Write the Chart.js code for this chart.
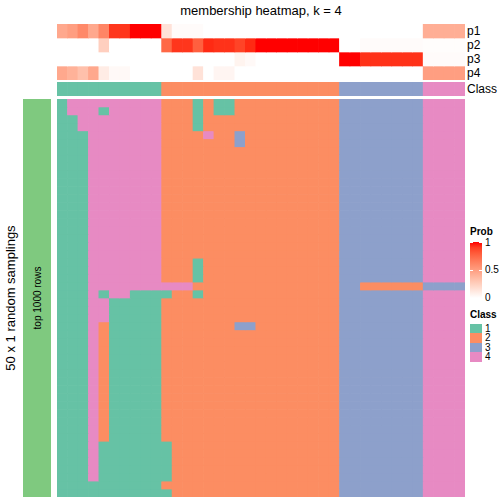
<!DOCTYPE html>
<html>
<head>
<meta charset="utf-8">
<script src="https://cdn.jsdelivr.net/npm/chart.js@4/dist/chart.umd.min.js"></script>
<style>
body { margin: 0; width: 504px; height: 504px; position: relative; overflow: hidden; background: #fff;
       font-family: "Liberation Sans", Arial, Helvetica, sans-serif; color: #000; }
canvas, .abs { position: absolute; }
.rowname { left: 467px; font-size: 12px; line-height: 14px; }
.legtitle { left: 470px; font-size: 10px; font-weight: bold; line-height: 12px; }
.legtick { left: 485px; font-size: 10px; line-height: 10px; }
.swatch { left: 470px; width: 12px; }
</style>
</head>
<body>
<div class="abs" style="left:57px;top:3px;width:408px;text-align:center;font-size:13px;line-height:15px">membership heatmap, k = 4</div>

<canvas id="probChart" width="408" height="56" style="left:57px;top:24px"></canvas>
<canvas id="classChart" width="408" height="14" style="left:57px;top:82px"></canvas>
<canvas id="mainChart" width="408" height="398" style="left:57px;top:99px"></canvas>

<div class="abs rowname" style="top:24px">p1</div>
<div class="abs rowname" style="top:38px">p2</div>
<div class="abs rowname" style="top:52px">p3</div>
<div class="abs rowname" style="top:66px">p4</div>
<div class="abs rowname" style="top:82px">Class</div>

<!-- left side: row title + split bar -->
<div class="abs" style="left:10px;top:298px;transform:translate(-50%,-50%) rotate(-90deg);white-space:nowrap;font-size:13px">50 x 1 random samplings</div>
<div class="abs" style="left:23px;top:99px;width:28px;height:398px;background:#7FC97F"></div>
<div class="abs" style="left:37px;top:298px;transform:translate(-50%,-50%) rotate(-90deg);white-space:nowrap;font-size:10px">top 1000 rows</div>

<!-- legends -->
<div class="abs legtitle" style="top:226px">Prob</div>
<div class="abs" id="gradient" style="left:470px;top:242px;width:12px;height:56px"></div>
<div class="abs" style="left:470px;top:242px;width:3px;height:1px;background:#fff"></div>
<div class="abs" style="left:479px;top:242px;width:3px;height:1px;background:#fff"></div>
<div class="abs" style="left:470px;top:270px;width:3px;height:1px;background:#fff"></div>
<div class="abs" style="left:479px;top:270px;width:3px;height:1px;background:#fff"></div>
<div class="abs legtick" style="top:238px">1</div>
<div class="abs legtick" style="top:265px">0.5</div>
<div class="abs legtick" style="top:293px">0</div>

<div class="abs legtitle" style="top:309px">Class</div>
<div id="classLegend"></div>

<script>
// ---- data ----
const k = 4;
const classIds = [1, 2, 3, 4];
const classColors = { 1: "#66C2A5", 2: "#FC8D62", 3: "#8DA0CB", 4: "#E78AC3" };

// class of each of the 39 samples (top annotation)
const colClass = [1,1,1,1,1,1,1,1,1,1,
                  2,2,2,2,2,2,2,2,2,2,2,2,2,2,2,2,2,
                  3,3,3,3,3,3,3,3,
                  4,4,4,4];

// membership probabilities per sample
const p1 = [0.45,0.5,0.6,0.45,0.62,0.92,0.92,1,1,1,
            0.15,0.02,0.02,0.02,0,0,0,0,0,0,0,0,0,0,0,0,0,
            0,0,0,0,0,0,0,0,
            0.42,0.42,0.42,0.42];
const p2 = [0,0,0,0,0.25,0,0,0,0,0,
            0.75,0.92,0.92,0.78,0.95,0.93,0.93,0.88,0.95,1,1,1,1,1,1,1,1,
            0,0,0.02,0.02,0.02,0.02,0.02,0.02,
            0.01,0.01,0.01,0.01];
const p3 = [0,0,0,0,0,0,0,0,0,0,
            0,0,0,0,0,0,0,0.06,0.03,0,0,0,0,0,0,0,0,
            1,1,0.93,0.93,0.93,0.93,0.93,0.93,
            0.02,0.02,0.02,0.02];
const p4 = [0.45,0.4,0.33,0.45,0.1,0.03,0.03,0,0,0,
            0,0,0,0.15,0,0.05,0.05,0,0,0,0,0,0,0,0,0,0,
            0,0,0,0,0,0,0,0,
            0.5,0.5,0.5,0.5];

// class assigned in each of the 50 random samplings (rows) for each sample
const samplingRows = [
  "1444444444 22212112222222222 333333334444",
  "1444144444 22212112222222222 333333334444",
  "1144444444 22212222222222222 333333334444",
  "1144444444 22212222222222222 333333334444",
  "1114444444 22224223222222222 333333334444",
  "1114444444 22222223222222222 333333334444",
  "1114444444 22222222222222222 333333334444",
  "1114444444 22222222222222222 333333334444",
  "1114444444 22222222222222222 333333334444",
  "1114444444 22222222222222222 333333334444",
  "1114444444 22222222222222222 333333334444",
  "1114444444 22222222222222222 333333334444",
  "1114444444 22222222222222222 333333334444",
  "1114444444 22222222222222222 333333334444",
  "1114444444 22222222222222222 333333334444",
  "1114444444 22222222222222222 333333334444",
  "1114444444 22222222222222222 333333334444",
  "1114444444 22222222222222222 333333334444",
  "1114444444 22222222222222222 333333334444",
  "1114444444 22222222222222222 333333334444",
  "1114444444 22212222222222222 333333334444",
  "1114444444 22212222222222222 333333334444",
  "1114444444 22212222222222222 333333334444",
  "1114444444 44422222222222222 332222223333",
  "1114144111 12212222222222222 333333334444",
  "1114411111 22222222222222222 333333334444",
  "1114411111 22222222222222222 333333334444",
  "1114411111 22222222222222222 333333334444",
  "1114211111 22222223322222222 333333334444",
  "1114211111 22222222222222222 333333334444",
  "1114211111 22222222222222222 333333334444",
  "1114211111 22222222222222222 333333334444",
  "1114211111 22222222222222222 333333334444",
  "1114211111 22222222222222222 333333334444",
  "1114211111 22222222222222222 333333334444",
  "1114211111 22222222222222222 333333334444",
  "1114211111 22222222222222222 333333334444",
  "1114211111 22222222222222222 333333334444",
  "1114211111 22222222222222222 333333334444",
  "1114211111 22222222222222222 333333334444",
  "1114211111 22222222222222222 333333334444",
  "1114211111 22222222222222222 333333334444",
  "1114211111 22222222222222222 333333334444",
  "1114111111 12222222222222222 333333334444",
  "1114111111 12222222222222222 333333334444",
  "1114111111 12222222222222222 333333334444",
  "1114111111 12222222222222222 333333334444",
  "1114111111 12222222222222222 333333334444",
  "1111111111 22222222222222222 333333334444",
  "1111111111 12222222222222222 333333334444"
];

const sampleIds = colClass.map((c, i) => "s" + (i + 1));

// ---- white -> red colour ramp, interpolated in LAB like colorRamp2 ----
const labWhite = [100, 0, 0];
const labRed = [53.24, 80.09, 67.2];
function lab2rgb(L, a, b) {
  const fy = (L + 16) / 116, fx = fy + a / 500, fz = fy - b / 200;
  const inv = t => t * t * t > 0.008856 ? t * t * t : (t - 16 / 116) / 7.787;
  const X = 0.95047 * inv(fx), Y = inv(fy), Z = 1.08883 * inv(fz);
  const lin = [3.2406 * X - 1.5372 * Y - 0.4986 * Z,
              -0.9689 * X + 1.8758 * Y + 0.0415 * Z,
               0.0557 * X - 0.2040 * Y + 1.0570 * Z];
  return lin.map(c => {
    c = c <= 0.0031308 ? 12.92 * c : 1.055 * Math.pow(c, 1 / 2.4) - 0.055;
    return Math.round(Math.max(0, Math.min(1, c)) * 255);
  });
}
function probColor(v) {
  const t = Math.max(0, Math.min(1, v));
  const lab = labWhite.map((w, i) => w + (labRed[i] - w) * t);
  const rgb = lab2rgb(lab[0], lab[1], lab[2]);
  return "rgb(" + rgb.join(",") + ")";
}

// ---- stacked bars used as heatmap cells ----
function heatChart(id, rows, colorOf) {
  return new Chart(document.getElementById(id), {
    type: "bar",
    data: {
      labels: sampleIds,
      datasets: rows.map(row => ({
        data: row.map(() => 1),
        backgroundColor: row.map(colorOf),
        borderWidth: 0,
        barPercentage: 1,
        categoryPercentage: 1
      }))
    },
    options: {
      responsive: false,
      animation: false,
      devicePixelRatio: 1,
      layout: { padding: 0 },
      plugins: { legend: { display: false }, tooltip: { enabled: false } },
      scales: {
        x: { stacked: true, display: false },
        y: { stacked: true, display: false, reverse: true, min: 0, max: rows.length }
      }
    }
  });
}

heatChart("probChart", [p1, p2, p3, p4], probColor);
heatChart("classChart", [colClass], c => classColors[c]);
heatChart("mainChart",
  samplingRows.map(s => s.replace(/ /g, "").split("").map(Number)),
  c => classColors[c]);

// ---- legends ----
const stops = [];
for (let i = 0; i <= 10; i++) stops.push(probColor(1 - i / 10) + " " + (i * 10) + "%");
document.getElementById("gradient").style.background = "linear-gradient(to bottom, " + stops.join(", ") + ")";

const legendBox = document.getElementById("classLegend");
classIds.forEach((c, i) => {
  const top = 324 + i * 9.4;
  const sw = document.createElement("div");
  sw.className = "abs swatch";
  sw.style.top = top + "px";
  sw.style.height = "9.4px";
  sw.style.background = classColors[c];
  legendBox.appendChild(sw);
  const lb = document.createElement("div");
  lb.className = "abs legtick";
  lb.style.top = (top + 0) + "px";
  lb.textContent = c;
  legendBox.appendChild(lb);
});
</script>
</body>
</html>
